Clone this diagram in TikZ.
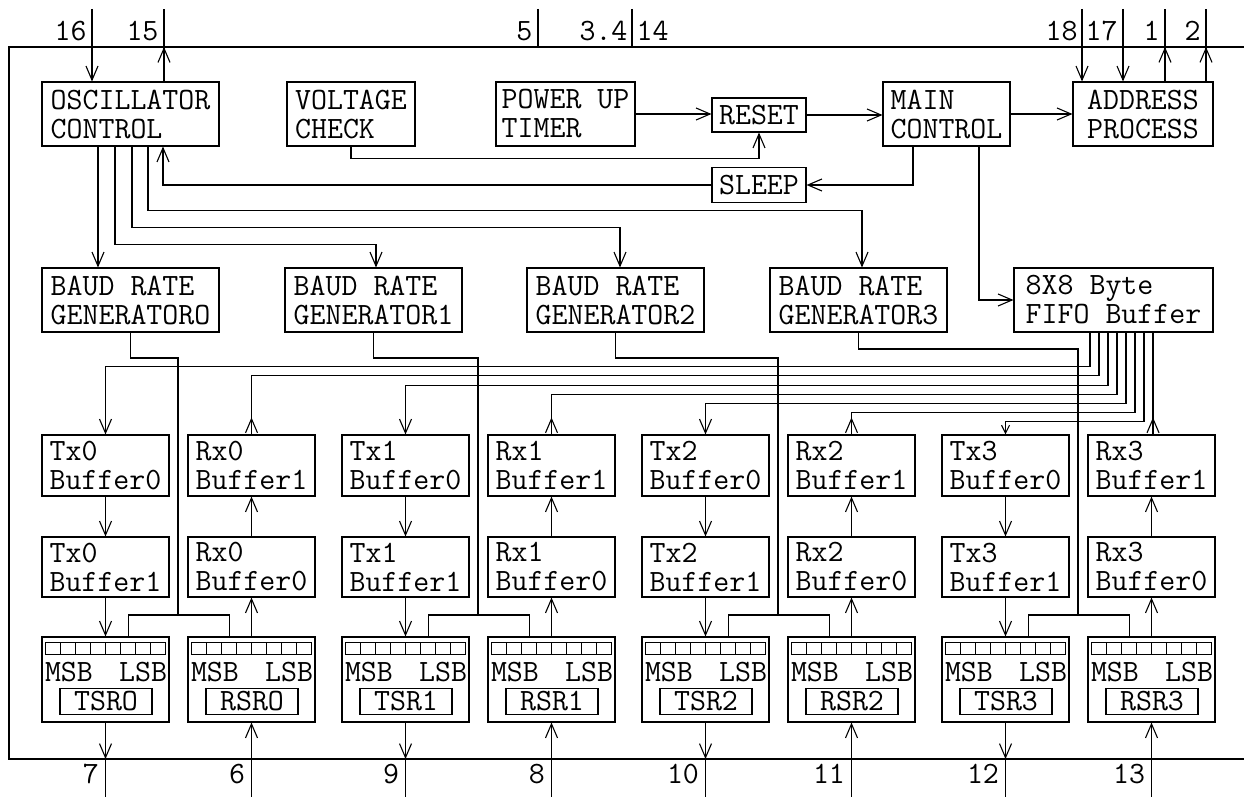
\documentclass[tikz,border=0pt]{standalone}
\usetikzlibrary{arrows.meta,calc}

\begin{document}
\begin{tikzpicture}[x=1pt,y=-1pt,line width=1.1pt,
    blk/.style={draw,align=left,inner sep=0pt,minimum height=64pt,
      font=\ttfamily\fontsize{31}{29}\selectfont},
    buf/.style={blk,minimum width=127pt,minimum height=61pt},
    reg/.style={draw,minimum width=127pt,minimum height=85pt,inner sep=0pt},
    lbl/.style={inner sep=0pt,font=\ttfamily\fontsize{31}{29}\selectfont},
    arr/.style={-{Straight Barb[length=14pt,width=12pt]}},
    arrs/.style={-{Straight Barb[length=8pt,width=8pt]}}]
  \useasboundingbox (0,0) rectangle (1244,797);
  \draw (1244,47) -| (9,759) -- (1244,759);
  \coordinate (ftop) at (9,47);
  \coordinate (fbot) at (9,759);

  \node[blk,minimum width=177pt] (osc) at (130.5,114) {OSCILLATOR\\CONTROL};
  \node[blk,minimum width=128pt] (volt) at (351,114) {VOLTAGE\\CHECK};
  \node[blk,minimum width=139pt] (pwr) at (565.5,114) {POWER UP\\TIMER};
  \node[blk,minimum width=94pt,minimum height=34pt] (rst) at (759,115) {RESET};
  \node[blk,minimum width=94pt,minimum height=35pt] (slp) at (759,185) {SLEEP};
  \node[blk,minimum width=127pt] (mainc) at (946.5,114) {MAIN\\CONTROL};
  \node[blk,minimum width=140pt] (addr) at (1143,114) {ADDRESS\\PROCESS};

  \node[blk,minimum width=177pt] (brg0) at (130.5,300) {BAUD RATE\\GENERATORO};
  \node[blk,minimum width=177pt] (brg1) at (373.5,300) {BAUD RATE\\GENERATOR1};
  \node[blk,minimum width=177pt] (brg2) at (615.5,300) {BAUD RATE\\GENERATOR2};
  \node[blk,minimum width=177pt] (brg3) at (858.5,300) {BAUD RATE\\GENERATOR3};
  \node[blk,minimum width=199pt] (fifo) at (1113.5,300) {8X8 Byte\\FIFO Buffer};

  % pins on top
  \coordinate (p16) at (92,9);
  \coordinate (p15) at (164,9);
  \coordinate (p5) at (538,9);
  \coordinate (p34) at (632,9);
  \coordinate (p18) at (1082,9);
  \coordinate (p17) at (1123,9);
  \coordinate (p1) at (1165,9);
  \coordinate (p2) at (1206,9);
  \draw[arr] (p16) -- (p16 |- osc.north);
  \draw (p15 |- osc.north) -- (p15);
  \draw[arr] (p15 |- osc.north) -- (p15 |- ftop);
  \draw (p5) -- (p5 |- ftop);
  \draw (p34) -- (p34 |- ftop);
  \draw[arr] (p18) -- (p18 |- addr.north);
  \draw[arr] (p17) -- (p17 |- addr.north);
  \foreach \p in {p1,p2}{
    \draw (\p |- addr.north) -- (\p);
    \draw[arr] (\p |- addr.north) -- (\p |- ftop);
  }
  \node[lbl,anchor=base east] (n16) at (87,41) {16};
  \node[lbl,anchor=base east] (n15) at (159,41) {15};
  \node[lbl,anchor=base east] (n5) at (533,41) {5};
  \node[lbl,anchor=base east] (n34) at (628,41) {3.4};
  \node[lbl,anchor=base west] (n14) at (636,41) {14};
  \node[lbl,anchor=base east] (n18) at (1078,41) {18};
  \node[lbl,anchor=base east] (n17) at (1118,41) {17};
  \node[lbl,anchor=base east] (n1) at (1160,41) {1};
  \node[lbl,anchor=base east] (n2) at (1201,41) {2};

  \draw[arr] (pwr.east) -- (pwr.east -| rst.west);
  \draw[arr] (volt.south) -- ++(0,12) -| (rst.south);
  \draw[arr] (rst.east) -- (rst.east -| mainc.west);
  \draw[arr] (mainc.east) -- (mainc.east -| addr.west);
  \draw[arr] ($(mainc.south)+(-33.5,0)$) |- (slp.east);
  \draw[arr] (slp.west) -| ($(osc.south)+(32.5,0)$);
  \draw[arr] ($(mainc.south)+(32.5,0)$) |- (fifo.west);

  \coordinate (o1) at ($(osc.south)+(-32.5,0)$);
  \coordinate (o2) at ($(osc.south)+(-15.5,0)$);
  \coordinate (o3) at ($(osc.south)+(1.5,0)$);
  \coordinate (o4) at ($(osc.south)+(17.5,0)$);
  \draw[arr] (o1) -- (o1 |- brg0.north);
  \draw[arr] (o2) |- ($(brg1.north)+(2.5,-23)$) -- ($(brg1.north)+(2.5,0)$);
  \draw[arr] (o3) |- ($(brg2.north)+(4.5,-40)$) -- ($(brg2.north)+(4.5,0)$);
  \draw[arr] (o4) |- ($(brg3.north)+(3.5,-57)$) -- ($(brg3.north)+(3.5,0)$);

  \foreach \i/\tp/\rp in {0/7/6,1/9/8,2/10/11,3/12/13}{
    \pgfmathsetmacro{\tx}{105.5+300*\i}
    \pgfmathsetmacro{\rx}{251.5+300*\i}
    \node[buf] (txa\i) at (\tx,465.5) {Tx\i\\Buffer0};
    \node[buf,minimum height=60pt] (txb\i) at (\tx,567) {Tx\i\\Buffer1};
    \node[reg] (tsr\i) at (\tx,679.5) {};
    \node[buf] (rxb\i) at (\rx,465.5) {Rx\i\\Buffer1};
    \node[buf,minimum height=60pt] (rxa\i) at (\rx,567) {Rx\i\\Buffer0};
    \node[reg] (rsr\i) at (\rx,679.5) {};
    \coordinate (q\tp) at (\tx,797);
    \coordinate (q\rp) at (\rx,797);
    \draw[arr] (txa\i) -- (txb\i);
    \draw[arr] (txb\i) -- (tsr\i);
    \draw[arr] (rsr\i) -- (rxa\i);
    \draw[arr] (rxa\i) -- (rxb\i);
    \draw (tsr\i) -- (q\tp);
    \draw[arr] (tsr\i) -- (tsr\i.south |- fbot);
    \draw[arr] (q\rp) -- (rsr\i);
    \node[lbl,anchor=base east] (n\tp) at ($(q\tp)+(-6,-14)$) {\tp};
    \node[lbl,anchor=base east] (n\rp) at ($(q\rp)+(-6,-14)$) {\rp};
  }

  \foreach \r/\lb in {tsr0/TSRO,rsr0/RSRO,tsr1/TSR1,rsr1/RSR1,tsr2/TSR2,rsr2/RSR2,tsr3/TSR3,rsr3/RSR3}{
    \draw[line width=0.9pt] ($(\r.north west)+(4,6)$) rectangle ($(\r.north west)+(124,18)$);
    \foreach \c in {1,...,7}
      \draw[line width=0.9pt] ($(\r.north west)+(4+15*\c,6)$) -- ++(0,12);
    \node[lbl,anchor=base west] (m\r) at ($(\r.north west)+(3,45)$) {MSB};
    \node[lbl,anchor=base east] (l\r) at ($(\r.north east)+(-2,45)$) {LSB};
    \node[lbl,draw,minimum width=92pt,minimum height=26pt] (n\r) at ($(\r.north)+(0.5,65)$) {\lb};
  }

  \foreach \i/\lv in {0/358,1/358,2/358,3/349}{
    \pgfmathsetmacro{\dx}{178+300*\i}
    \coordinate (bus\i) at (\dx,615);
    \draw (brg\i.south) |- (\dx,\lv) -- (bus\i);
    \draw ($(tsr\i.north)+(23,0)$) |- (bus\i) -| ($(rsr\i.north)+(-22,0)$);
  }

  \foreach \fk/\tg/\lv/\st in {0/txa0/367/arr,2/txa1/386/arr,4/txa2/404/arr,6/txa3/422/arrs}{
    \coordinate (f\fk) at ($(fifo.south)+(-23.5+9*\fk,0)$);
    \draw[\st] (f\fk) |- ($(\tg.north)+(0,\lv-435)$) -- (\tg.north);
  }
  \foreach \fk/\tg/\lv in {1/rxb0/376,3/rxb1/395,5/rxb2/413}{
    \coordinate (f\fk) at ($(fifo.south)+(-23.5+9*\fk,0)$);
    \draw (f\fk) |- ($(\tg.north)+(0,\lv-435)$) -- (\tg.north);
    \draw[arr] (\tg.north) -- ++(0,-17);
  }
  \coordinate (f7) at ($(fifo.south)+(39.5,0)$);
  \draw (f7) -- (f7 |- rxb3.north);
  \draw[arr] (f7 |- rxb3.north) -- ++(0,-17);
\end{tikzpicture}
\end{document}
